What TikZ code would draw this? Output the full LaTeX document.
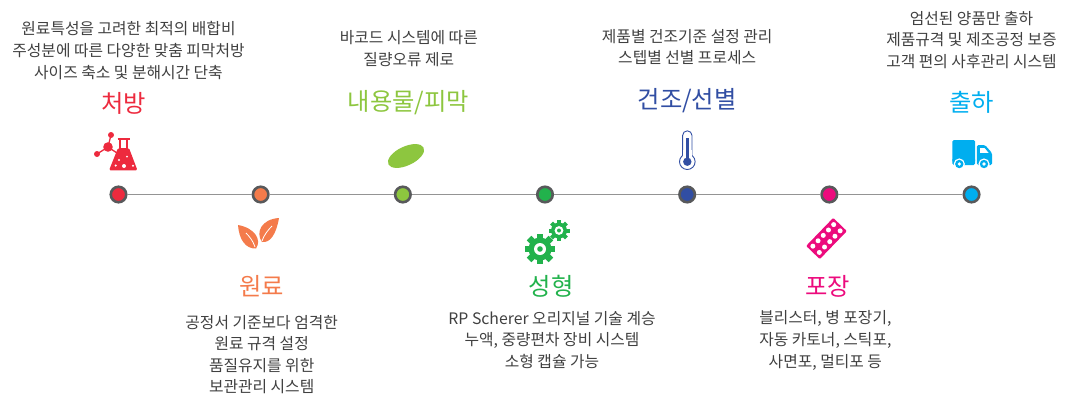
\documentclass[tikz,border=0pt]{standalone}
\usepackage{fontspec}
\setmainfont{Noto Sans CJK KR}
\usetikzlibrary{positioning}

\definecolor{prescRed}{HTML}{ED2A3E}
\definecolor{rawOrange}{HTML}{F47B4B}
\definecolor{fillLime}{HTML}{8DC63F}
\definecolor{moldGreen}{HTML}{22B24C}
\definecolor{dryNavy}{HTML}{314EA3}
\definecolor{packPink}{HTML}{EC0B7D}
\definecolor{shipSky}{HTML}{00AEEF}
\definecolor{dotRim}{HTML}{58595B}
\definecolor{bodyGray}{HTML}{404040}

\begin{document}
\begin{tikzpicture}[
    x=1pt, y=-1pt,
    on grid,
    node distance=142.17pt,
    dot/.style={circle, draw=dotRim, line width=2.6pt, inner sep=0pt, minimum size=15.5pt},
    title/.style={font=\fontsize{24.3}{28}\selectfont, inner sep=0pt},
    desc/.style={font=\fontsize{15.8}{21.6}\selectfont, text=bodyGray, align=center, inner sep=0pt},
    timeline/.style={draw=black!42, line width=1.6pt}
]
\useasboundingbox (0,0) rectangle (1066,408);

% timeline
\node[dot, fill=prescRed] (dotA) at (118.5,194.5) {};
\node[dot, fill=rawOrange, right=of dotA] (dotB) {};
\node[dot, fill=fillLime, right=of dotB] (dotC) {};
\node[dot, fill=moldGreen, right=of dotC] (dotD) {};
\node[dot, fill=dryNavy, right=of dotD] (dotE) {};
\node[dot, fill=packPink, right=of dotE] (dotF) {};
\node[dot, fill=shipSky, right=of dotF] (dotG) {};

\draw[timeline] (dotA) -- (dotB);
\draw[timeline] (dotB) -- (dotC);
\draw[timeline] (dotC) -- (dotD);
\draw[timeline] (dotD) -- (dotE);
\draw[timeline] (dotE) -- (dotF);
\draw[timeline] (dotF) -- (dotG);

% titles
\node[title, text=prescRed, above=91.5pt of dotA, xshift=5pt] (titleA) {처방};
\node[title, text=rawOrange, below=91.5pt of dotB, xshift=1pt] (titleB) {원료};
\node[title, text=fillLime, above=91.5pt of dotC, xshift=5.5pt] (titleC) {내용물/피막};
\node[title, text=moldGreen, below=91.5pt of dotD, xshift=6pt] (titleD) {성형};
\node[title, text=dryNavy, above=94pt of dotE] (titleE) {건조/선별};
\node[title, text=packPink, below=91.5pt of dotF, xshift=-2pt] (titleF) {포장};
\node[title, text=shipSky, above=92pt of dotG] (titleG) {출하};

% descriptions
\node[desc, above=52.5pt of titleA, xshift=5pt] (descA) {원료특성을 고려한 최적의 배합비\\주성분에 따른 다양한 맞춤 피막처방\\사이즈 축소 및 분해시간 단축};
\node[desc, below=68.5pt of titleB] (descB) {공정서 기준보다 엄격한\\원료 규격 설정\\품질유지를 위한\\ 보관관리 시스템};
\node[desc, above=54.5pt of titleC, xshift=0.5pt] (descC) {바코드 시스템에 따른\\질량오류 제로};
\node[desc, below=54pt of titleD, xshift=1pt] (descD) {RP Scherer 오리지널 기술 계승\\누액, 중량편차 장비 시스템\\소형 캡슐 가능};
\node[desc, above=53.5pt of titleE] (descE) {제품별 건조기준 설정 관리\\스텝별 선별 프로세스};
\node[desc, below=54.5pt of titleF, xshift=-2pt] (descF) {블리스터, 병 포장기,\\자동 카토너, 스틱포,\\사면포, 멀티포 등};
\node[desc, above=62.5pt of titleG] (descG) {엄선된 양품만 출하\\제품규격 및 제조공정 보증\\고객 편의 사후관리 시스템};

% flask and molecule
\draw[prescRed, line width=1.8pt] (117.5,139) -- (129.5,139);
\draw[prescRed, line width=1.5pt] (120,139) -- (120,150) (127,139) -- (127,150);
\fill[prescRed, rounded corners=1.5pt] (118,148) -- (129,148) -- (137.5,170.4) -- (109,170.4) -- cycle;
\fill[white] (119,160) circle[radius=1.2] (124,166) circle[radius=2] (115.7,165.5) circle[radius=1.2] (133,165.7) circle[radius=1.2] (127,156.5) circle[radius=1];
\draw[prescRed, line width=1.3pt] (97,154) -- (108,147) -- (111,135) (108,147) -- (117,153);
\fill[prescRed] (108,147) circle[radius=4.8] (111,135) circle[radius=3] (97,154) circle[radius=3];

% leaves
\fill[rawOrange] (238,225) .. controls (239,240) and (246,249) .. (256,248.5) .. controls (262,240) and (255,228) .. (238,225) -- cycle;
\fill[rawOrange] (279,218) .. controls (262,219) and (255,232) .. (262,242) .. controls (270,243) and (276,235) .. (279,218) -- cycle;
\draw[white, line width=0.8pt] (246,233) .. controls (250,237) and (253,241) .. (255,247);
\draw[white, line width=0.8pt] (272,226) .. controls (268,230) and (264,235) .. (262,241);

% pill
\fill[fillLime, rotate around={25:(406,156)}] (406,156) ellipse[x radius=19.5, y radius=9.5];

% gears
\fill[moldGreen] (540,249) circle[radius=11.5];
\foreach \ang in {0,45,...,315}
    \fill[moldGreen, rotate around={\ang:(540,249)}] (536.8,233.6) rectangle (543.2,240);
\fill[white] (540,249) circle[radius=6];
\fill[moldGreen] (540,249) circle[radius=2.8];
\fill[moldGreen] (559,230.5) circle[radius=8];
\foreach \ang in {0,45,...,315}
    \fill[moldGreen, rotate around={\ang:(559,230.5)}] (557,220) rectangle (561,224);
\fill[white] (559,230.5) circle[radius=4.4];
\fill[moldGreen] (559,230.5) circle[radius=2];

% thermometer
\draw[dryNavy, line width=0.9pt] (682.6,158) -- (682.6,135.5) arc[start angle=180, end angle=360, radius=4.7] -- (692,158);
\draw[dryNavy, line width=0.9pt, fill=white] (687.3,161.7) circle[radius=7.8];
\fill[white] (683.1,150) rectangle (691.5,157);
\fill[dryNavy] (685.5,138) rectangle (689.1,160);
\fill[dryNavy] (687.3,161.7) circle[radius=4.2];

% blister pack
\begin{scope}[rotate around={46:(826.5,238.5)}]
    \fill[packPink, rounded corners=1.2pt] (807,229) rectangle (846,248);
    \foreach \i in {0,1,2,3,4} {
        \fill[white] (811.5+\i*7.5,234) circle[radius=2.5];
        \fill[white] (811.5+\i*7.5,243) circle[radius=2.5];
    }
\end{scope}

% truck
\fill[shipSky, rounded corners=1.5pt] (952.3,140) rectangle (975,162.5);
\fill[shipSky, rounded corners=1.5pt] (952.3,158) rectangle (975,165);
\fill[shipSky, rounded corners=1.5pt] (976.8,145) -- (985,145) -- (992,153) -- (992,165) -- (976.8,165) -- cycle;
\fill[white] (980,148) -- (984.5,148) -- (988.5,152.8) -- (980,152.8) -- cycle;
\foreach \cx in {959.3,984} {
    \fill[white] (\cx,164) circle[radius=5.6];
    \fill[shipSky] (\cx,164) circle[radius=4.2];
    \fill[white] (\cx,164) circle[radius=1.8];
}
\end{tikzpicture}
\end{document}
